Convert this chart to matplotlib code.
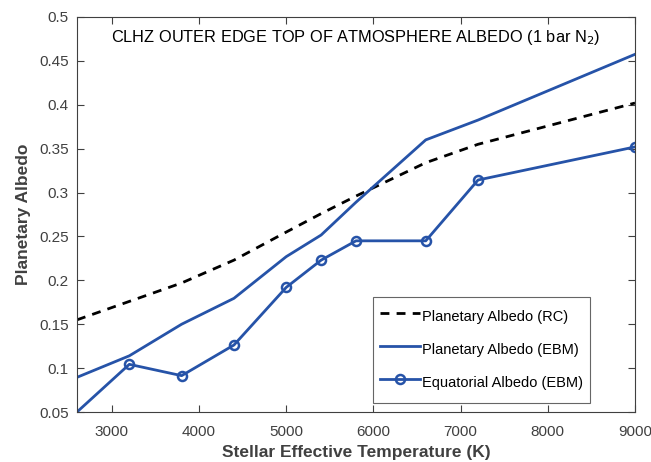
import numpy as np
import matplotlib
matplotlib.use('Agg')
import matplotlib.pyplot as plt

plt.rcParams['font.family'] = ['Liberation Sans', 'DejaVu Sans']

# stellar effective temperature (K)
temps = [2600, 3200, 3800, 4400, 5000, 5400, 5800, 6600, 7200, 9000]
albedo_rc = [0.155, 0.176, 0.197, 0.223, 0.255, 0.276, 0.296, 0.334, 0.355, 0.402]
albedo_ebm = [0.0895, 0.114, 0.150, 0.1795, 0.227, 0.2516, 0.289, 0.360, 0.3826, 0.4575]
equatorial_ebm = [0.050, 0.1043, 0.0914, 0.1263, 0.192, 0.223, 0.245, 0.245, 0.3143, 0.352]

xticks = [3000, 4000, 5000, 6000, 7000, 8000, 9000]
yticks = [0.05, 0.1, 0.15, 0.2, 0.25, 0.3, 0.35, 0.4, 0.45, 0.5]

blue = '#2653a8'
grey = '#404040'

fig = plt.figure(figsize=(6.51, 4.62), dpi=100)
ax = fig.add_axes([77/651, 1 - 412/462, (635-77)/651, (412-17)/462])

ax.plot(temps, albedo_rc, '--', color='black', lw=2, dashes=(3.2, 2.6),
        label='Planetary Albedo (RC)')
ax.plot(temps, albedo_ebm, '-', color=blue, lw=2, label='Planetary Albedo (EBM)')
# first marker sits on the axes corner and is clipped away in the original
ax.plot(temps, equatorial_ebm, '-o', color=blue, lw=2, ms=6.5, mew=1.8,
        mfc='none', markevery=list(range(1, len(temps))),
        label='Equatorial Albedo (EBM)')

ax.set_xlim(2600, 9000)
ax.set_ylim(0.05, 0.5)
ax.set_xticks(xticks)
ax.set_yticks(yticks)
ax.set_xticklabels([str(t) for t in xticks])
ax.set_yticklabels(['%g' % v for v in yticks])

ax.tick_params(direction='in', top=True, right=True, length=5, width=0.8,
               colors=grey, labelsize=11)
ax.tick_params(axis='x', pad=9)
ax.tick_params(axis='y', pad=6)
for s in ax.spines.values():
    s.set_color(grey)
    s.set_linewidth(0.8)

ax.set_xlabel('Stellar Effective Temperature (K)', fontsize=12.5, fontweight='bold',
              color=grey, labelpad=5)
ax.set_ylabel('Planetary Albedo', fontsize=12.5, fontweight='bold', color=grey,
              labelpad=6)

ax.text(0.5, 0.972, 'CLHZ OUTER EDGE TOP OF ATMOSPHERE ALBEDO (1 bar N$_2$)',
        transform=ax.transAxes, ha='center', va='top', fontsize=11.8)

leg = ax.legend(loc='lower left', bbox_to_anchor=(0.53, 0.023), fontsize=10.5,
                frameon=True, fancybox=False, edgecolor=grey, handlelength=2.75,
                handleheight=2.3, handletextpad=0.1, labelspacing=0.53,
                borderpad=0.5, borderaxespad=0)
leg.get_frame().set_linewidth(0.8)

fig.savefig('out.png', dpi=100)
